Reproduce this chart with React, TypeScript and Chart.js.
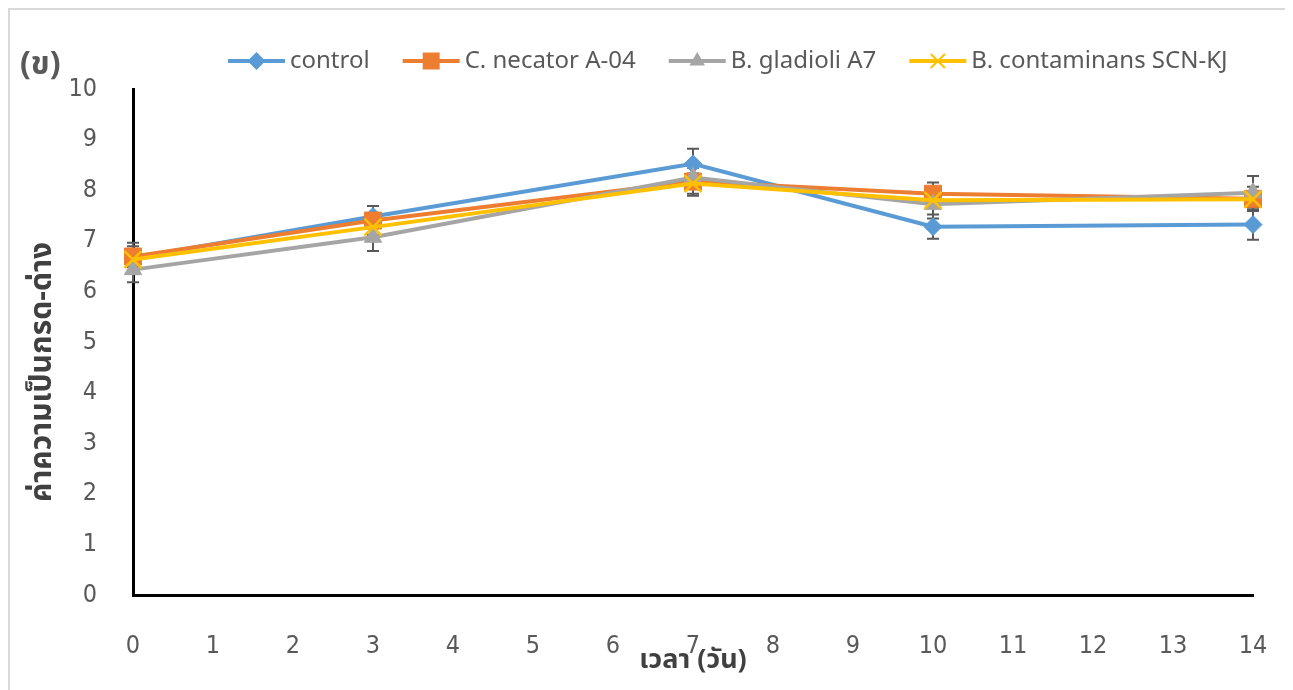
import React, { useEffect, useRef } from "react";
import { Chart, registerables } from "chart.js";

Chart.register(...registerables);

// ---- data ----
const days = [0, 3, 7, 10, 14];
const seriesNames = ["control", "C. necator A-04", "B. gladioli A7", "B. contaminans SCN-KJ"];
const controlValues = [6.66, 7.48, 8.52, 7.28, 7.32];
const controlErrors = [0.3, 0.21, 0.3, 0.24, 0.3];
const necatorValues = [6.69, 7.4, 8.17, 7.93, 7.83];
const necatorErrors = [0.2, 0.15, 0.28, 0.22, 0.24];
const gladioliValues = [6.43, 7.07, 8.25, 7.72, 7.95];
const gladioliErrors = [0.25, 0.27, 0.2, 0.28, 0.33];
const contaminansValues = [6.63, 7.27, 8.13, 7.8, 7.82];
const contaminansErrors = [0.15, 0.15, 0.2, 0.15, 0.15];
const xMin = 0;
const xMax = 14;
const yMin = 0;
const yMax = 10;
const panelLabel = "(ข)";
const yTitle = "ค่าความเป็นกรด-ด่าง";
const xTitle = "เวลา (วัน)";

const colors = ["#5B9BD5", "#ED7D31", "#A5A5A5", "#FFC000"];
const markers = ["rectRot", "rect", "triangle", "crossRot"];
const markerRadius = [9, 12, 10, 12];
const valuesList = [controlValues, necatorValues, gladioliValues, contaminansValues];
const errorsList = [controlErrors, necatorErrors, gladioliErrors, contaminansErrors];

const TICK_FONT = "'Liberation Sans Narrow', 'DejaVu Sans Condensed', 'Roboto Condensed', 'Noto Sans', sans-serif";
const TEXT_FONT = "'Noto Sans', 'Open Sans', sans-serif";
const THAI_FONT = "'Noto Sans Thai', 'Tahoma', 'Loma', 'Garuda', 'Noto Sans', sans-serif";

function drawMarker(ctx: CanvasRenderingContext2D, style: string, x: number, y: number, r: number, color: string) {
  ctx.save();
  ctx.fillStyle = color;
  ctx.strokeStyle = color;
  ctx.beginPath();
  if (style === "rectRot") {
    ctx.moveTo(x, y - r);
    ctx.lineTo(x + r, y);
    ctx.lineTo(x, y + r);
    ctx.lineTo(x - r, y);
    ctx.closePath();
    ctx.fill();
  } else if (style === "rect") {
    const s = Math.SQRT1_2 * r;
    ctx.rect(x - s, y - s, 2 * s, 2 * s);
    ctx.fill();
  } else if (style === "triangle") {
    for (let k = 0; k < 3; k++) {
      const a = (k * 2 * Math.PI) / 3;
      const px = x + Math.sin(a) * r;
      const py = y - Math.cos(a) * r;
      if (k === 0) ctx.moveTo(px, py);
      else ctx.lineTo(px, py);
    }
    ctx.closePath();
    ctx.fill();
  } else {
    const d = Math.SQRT1_2 * r;
    ctx.lineWidth = 2;
    ctx.moveTo(x - d, y - d);
    ctx.lineTo(x + d, y + d);
    ctx.moveTo(x + d, y - d);
    ctx.lineTo(x - d, y + d);
    ctx.stroke();
  }
  ctx.restore();
}

const errorBarPlugin = {
  id: "errorBars",
  beforeDatasetsDraw(chart: any) {
    const ctx = chart.ctx as CanvasRenderingContext2D;
    const xs = chart.scales.x;
    const ys = chart.scales.y;
    ctx.save();
    ctx.strokeStyle = "#595959";
    ctx.lineWidth = 2;
    chart.data.datasets.forEach((ds: any, di: number) => {
      const errs = errorsList[di];
      ds.data.forEach((p: any, i: number) => {
        const x = xs.getPixelForValue(p.x);
        const yt = ys.getPixelForValue(p.y + errs[i]);
        const yb = ys.getPixelForValue(p.y - errs[i]);
        ctx.beginPath();
        ctx.moveTo(x, yt);
        ctx.lineTo(x, yb);
        ctx.moveTo(x - 6, yt);
        ctx.lineTo(x + 6, yt);
        ctx.moveTo(x - 6, yb);
        ctx.lineTo(x + 6, yb);
        ctx.stroke();
      });
    });
    ctx.restore();
  },
};

const decorPlugin = {
  id: "decor",
  afterDraw(chart: any) {
    const ctx = chart.ctx as CanvasRenderingContext2D;
    const area = chart.chartArea;
    ctx.save();
    // panel label
    ctx.fillStyle = "#595959";
    ctx.font = `bold 32px ${THAI_FONT}`;
    ctx.textAlign = "left";
    ctx.textBaseline = "middle";
    ctx.fillText(panelLabel, 10, 58);

    // legend
    ctx.font = `24px ${TEXT_FONT}`;
    let lx = 218;
    const ly = 51;
    seriesNames.forEach((name, i) => {
      ctx.strokeStyle = colors[i];
      ctx.lineWidth = 4;
      ctx.beginPath();
      ctx.moveTo(lx, ly);
      ctx.lineTo(lx + 57, ly);
      ctx.stroke();
      drawMarker(ctx, markers[i], lx + 28.5, ly, i === 3 ? 10 : i === 1 ? 12 : 9, colors[i]);
      ctx.fillStyle = "#595959";
      ctx.textAlign = "left";
      ctx.textBaseline = "middle";
      ctx.fillText(name, lx + 62, ly);
      lx += 62 + ctx.measureText(name).width + 33;
    });

    // axis titles
    ctx.fillStyle = "#404040";
    ctx.font = `bold 27px ${THAI_FONT}`;
    ctx.textAlign = "center";
    ctx.textBaseline = "middle";
    ctx.fillText(xTitle, (area.left + area.right) / 2, 653);
    ctx.font = `bold 30px ${THAI_FONT}`;
    ctx.translate(35, 362);
    ctx.rotate(-Math.PI / 2);
    ctx.fillText(yTitle, 0, 0);
    ctx.restore();
  },
};

export default function App() {
  const ref = useRef<HTMLCanvasElement>(null);
  useEffect(() => {
    if (!ref.current) return;
    const chart = new Chart(ref.current, {
      type: "line",
      data: {
        datasets: seriesNames.map((name, i) => ({
          label: name,
          data: days.map((d, k) => ({ x: d, y: valuesList[i][k] })),
          borderColor: colors[i],
          backgroundColor: colors[i],
          borderWidth: 4,
          pointStyle: markers[i] as any,
          pointRadius: markerRadius[i],
          pointBorderWidth: i === 3 ? 2.5 : 1,
          pointBackgroundColor: colors[i],
          pointBorderColor: colors[i],
          tension: 0,
          clip: false as any,
          order: 4 - i,
        })),
      },
      options: {
        animation: false,
        responsive: false,
        devicePixelRatio: 1,
        layout: { padding: { top: 79, right: 32, left: 0, bottom: 0 } },
        plugins: { legend: { display: false }, tooltip: { enabled: false } },
        scales: {
          x: {
            type: "linear",
            min: xMin,
            max: xMax,
            afterFit: (s: any) => {
              s.height = 95;
              s.paddingLeft = 0;
              s.paddingRight = 0;
            },
            grid: { display: true, drawOnChartArea: false, drawTicks: false },
            border: { display: true, color: "#000000", width: 3 },
            ticks: {
              stepSize: 1,
              padding: 36,
              color: "#595959",
              font: { family: TICK_FONT, size: 25 },
            },
          },
          y: {
            type: "linear",
            min: yMin,
            max: yMax,
            afterFit: (s: any) => {
              s.width = 123;
              s.paddingTop = 0;
              s.paddingBottom = 0;
            },
            grid: { display: true, drawOnChartArea: false, drawTicks: false },
            border: { display: true, color: "#000000", width: 3 },
            ticks: {
              stepSize: 1,
              padding: 36,
              color: "#595959",
              font: { family: TICK_FONT, size: 25 },
            },
          },
        },
      },
      plugins: [errorBarPlugin, decorPlugin],
    });
    return () => chart.destroy();
  }, []);
  return (
    <div style={{ width: 1275, height: 680, border: "2px solid #d9d9d9" }}>
      <canvas ref={ref} width={1275} height={680} style={{ display: "block" }} />
    </div>
  );
}
